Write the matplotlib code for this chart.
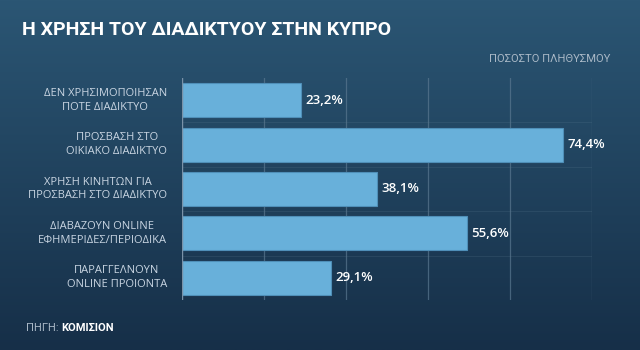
import numpy as np
import matplotlib
matplotlib.use("Agg")
import matplotlib.pyplot as plt

categories = [
    "ΔΕΝ ΧΡΗΣΙΜΟΠΟΙΗΣΑΝ\nΠΟΤΕ ΔΙΑΔΙΚΤΥΟ",
    "ΠΡΟΣΒΑΣΗ ΣΤΟ\nΟΙΚΙΑΚΟ ΔΙΑΔΙΚΤΥΟ",
    "ΧΡΗΣΗ ΚΙΝΗΤΩΝ ΓΙΑ\nΠΡΟΣΒΑΣΗ ΣΤΟ ΔΙΑΔΙΚΤΥΟ",
    "ΔΙΑΒΑΖΟΥΝ ONLINE\nΕΦΗΜΕΡΙΔΕΣ/ΠΕΡΙΟΔΙΚΑ",
    "ΠΑΡΑΓΓΕΛΝΟΥΝ\nONLINE ΠΡΟΙΟΝΤΑ",
]
values = [23.2, 74.4, 38.1, 55.6, 29.1]
value_labels = ["23,2%", "74,4%", "38,1%", "55,6%", "29,1%"]
grid_ticks = [0, 16, 32, 48, 64, 80]

W, H = 640, 350
fig = plt.figure(figsize=(6.4, 3.5), dpi=100)

# gradient background
bg = fig.add_axes([0, 0, 1, 1], zorder=-10)
top = np.array([43, 86, 116]) / 255
bot = np.array([22, 47, 72]) / 255
t = np.linspace(0, 1, 256)[:, None]
grad = top[None, :] * (1 - t) + bot[None, :] * t
bg.imshow(grad[:, None, :], aspect="auto", extent=[0, 1, 0, 1])
bg.set_axis_off()

# main axes in pixel coords
x0, x1 = 182, 592
y0, y1 = 78, 300
ax = fig.add_axes([x0 / W, 1 - y1 / H, (x1 - x0) / W, (y1 - y0) / H])
ax.patch.set_alpha(0)
y = np.arange(len(categories))
ax.barh(y, values, height=0.77, color="#68b0da", edgecolor="#4f8fb8", linewidth=0.8, zorder=3)
ax.set_xlim(0, 80)
ax.set_ylim(len(categories) - 0.5, -0.5)
for g in grid_ticks[1:]:
    ax.axvline(g, color="#5a7890", linewidth=0.9, alpha=0.7, zorder=1)
for yi in y[:-1]:
    ax.axhline(yi + 0.5, color="#5a7890", linewidth=0.6, alpha=0.25, zorder=1)
ax.axvline(0, color="#7a92a8", linewidth=1.0, zorder=4)
for s in ax.spines.values():
    s.set_visible(False)
ax.set_xticks([])
ax.set_yticks([])

for yi, v, lab in zip(y, values, value_labels):
    ax.text(v + 0.8, yi, lab, color="white", fontsize=9.5, va="center", ha="left",
            family="Open Sans", fontweight="semibold", zorder=5)

for yi, c in zip(y, categories):
    ax.annotate(c, xy=(0, yi), xycoords="data", xytext=(-15, 0),
                textcoords="offset pixels", color="#c9d5e2", fontsize=8,
                va="center", ha="right", multialignment="center",
                linespacing=1.35, family="Open Sans", zorder=5)

# title and annotations
fig.text(22 / W, 1 - 30 / H, "Η ΧΡΗΣΗ ΤΟΥ ΔΙΑΔΙΚΤΥΟΥ ΣΤΗΝ ΚΥΠΡΟ", color="white",
         fontsize=14, fontweight="bold", family="Roboto", va="center", ha="left")
fig.text(610 / W, 1 - 59 / H, "ΠΟΣΟΣΤΟ ΠΛΗΘΥΣΜΟΥ", color="#a9b8c6",
         fontsize=8.1, family="Roboto", va="center", ha="right")
t1 = fig.text(26 / W, 1 - 328 / H, "ΠΗΓΗ: ", color="#a9b8c6", fontsize=8,
              family="Roboto", va="center", ha="left")
fig.canvas.draw()
bb = t1.get_window_extent()
fig.text(bb.x1 / W, 1 - 328 / H, "ΚΟΜΙΣΙΟΝ", color="white", fontsize=8,
         fontweight="bold", family="Roboto", va="center", ha="left")

fig.savefig("out.png", dpi=100)
